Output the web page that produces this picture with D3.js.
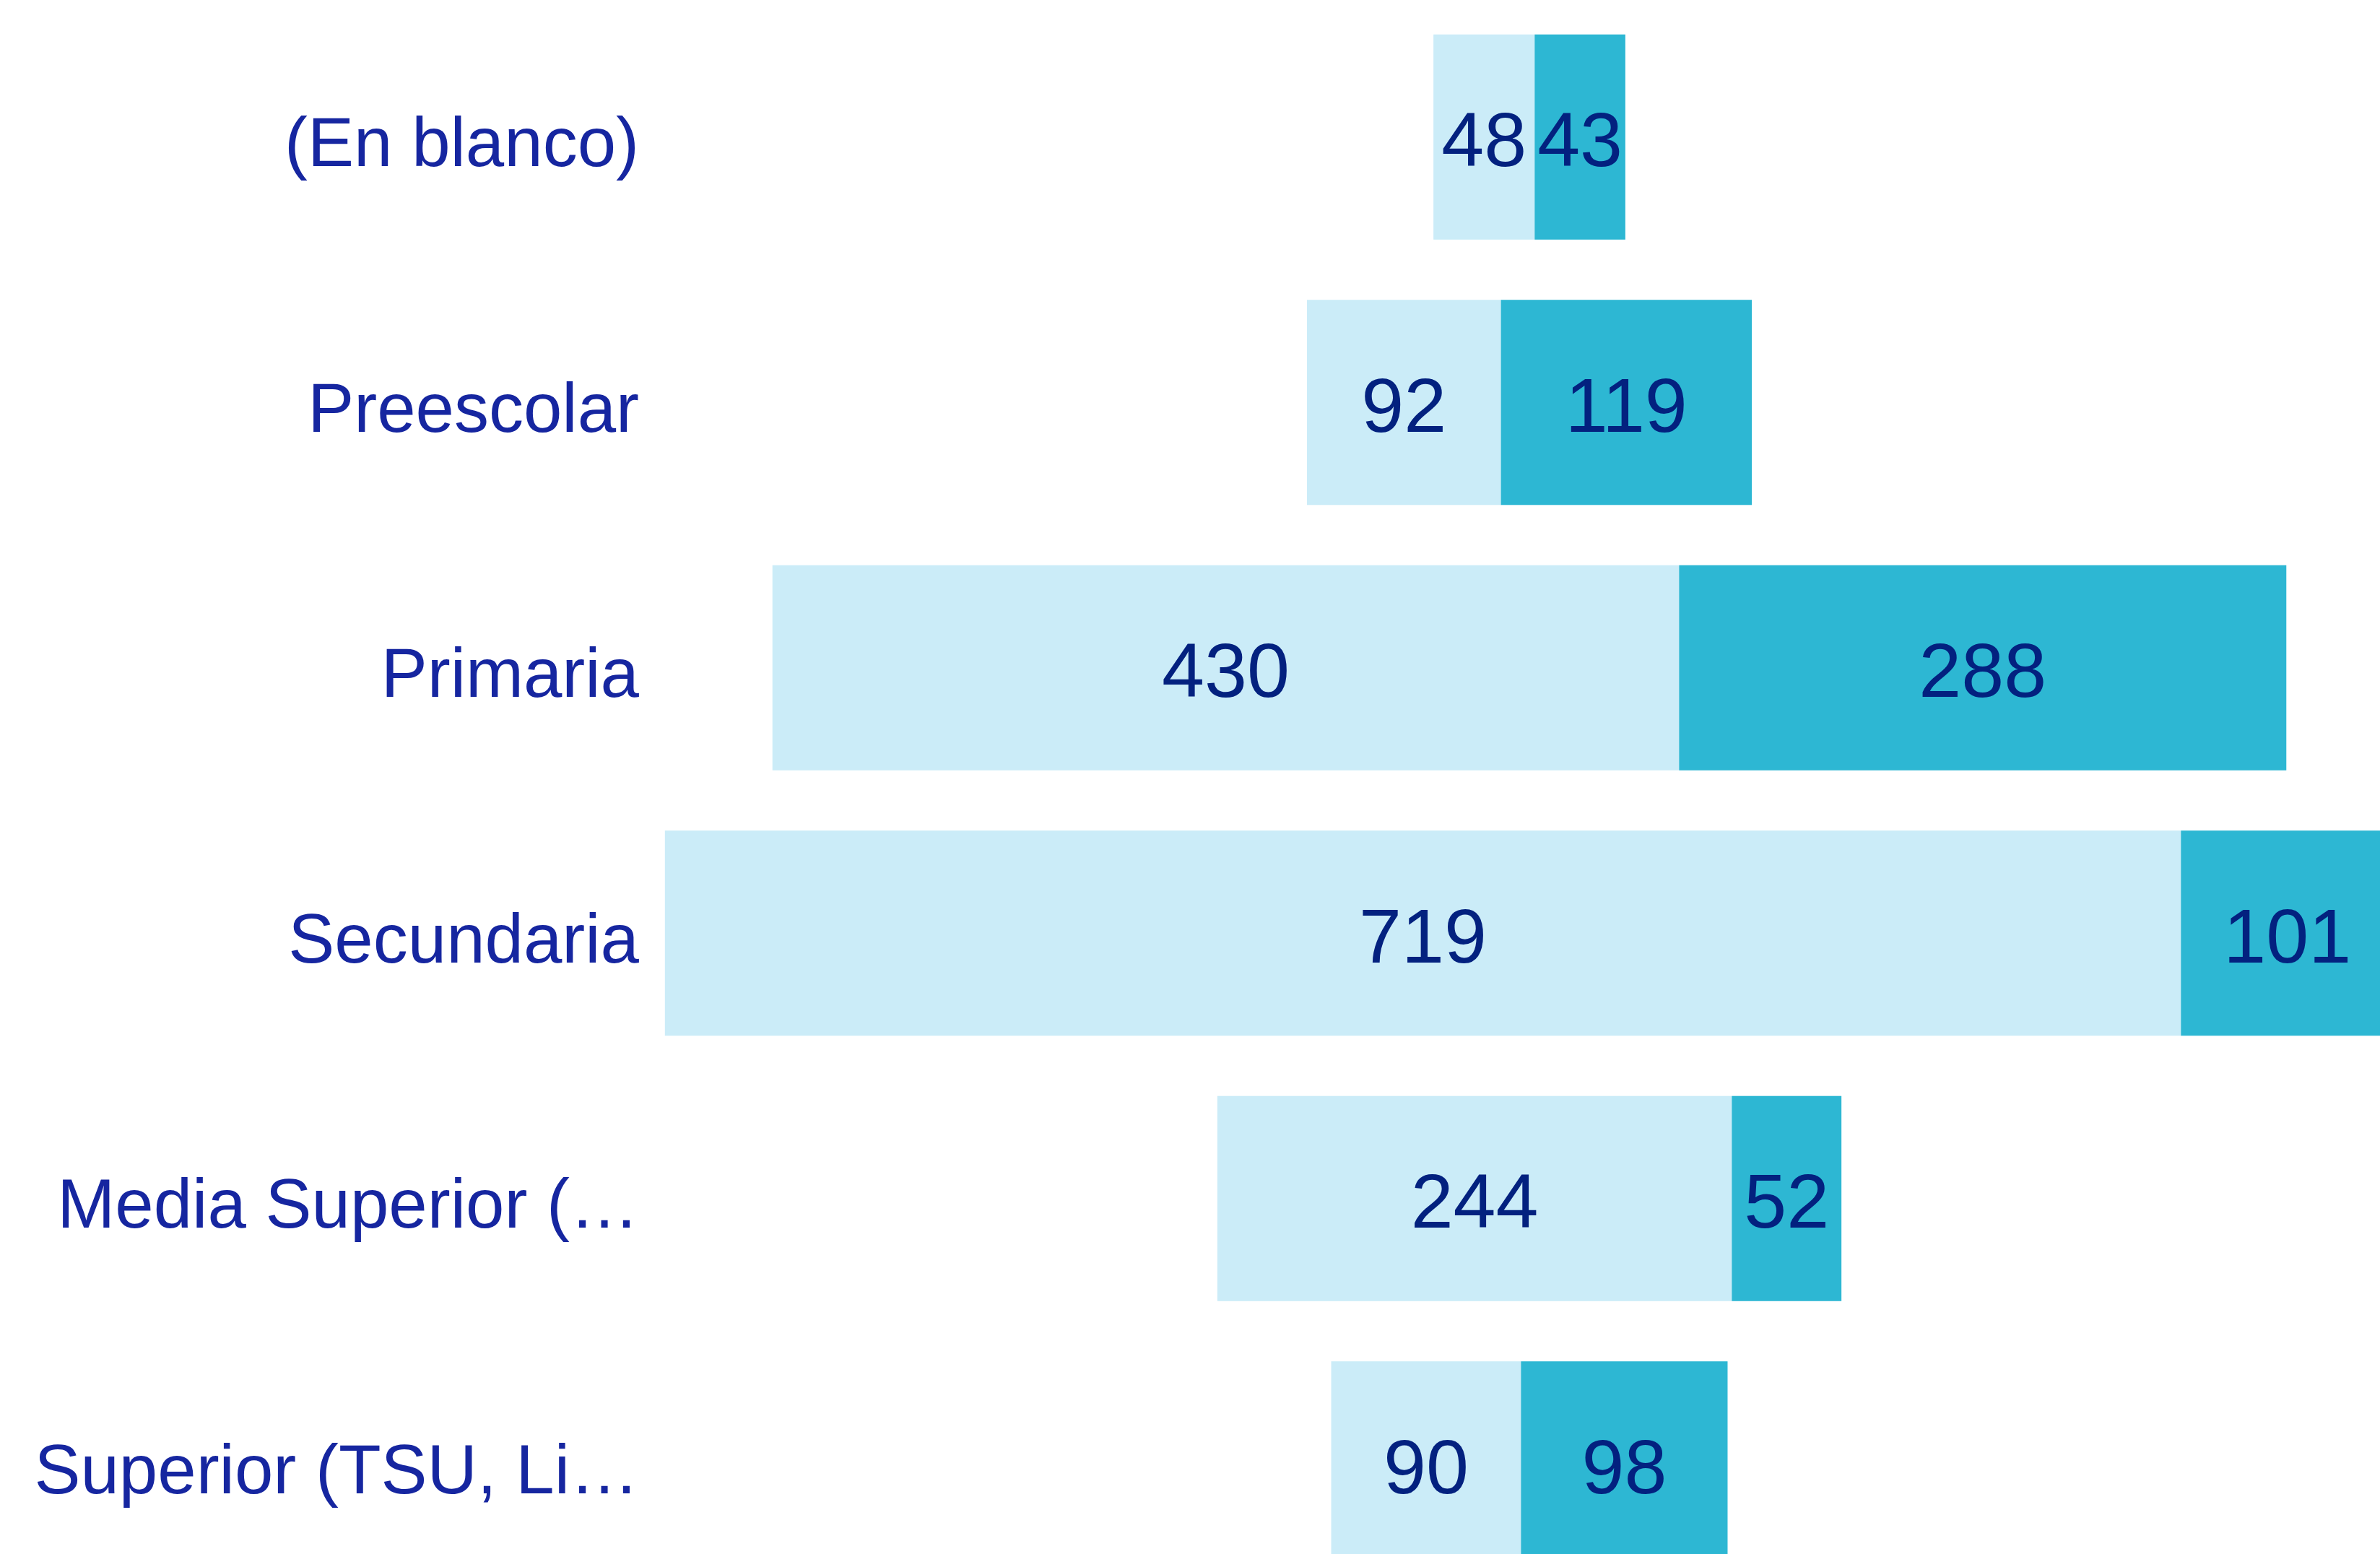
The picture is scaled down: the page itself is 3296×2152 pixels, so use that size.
<!DOCTYPE html>
<html>
<head>
<meta charset="utf-8">
<script src="https://cdn.jsdelivr.net/npm/d3@7"></script>
<style>
  html, body { margin: 0; padding: 0; background: #fff; overflow: hidden; }
  svg { display: block; font-family: "Liberation Sans", Arial, sans-serif; }
</style>
</head>
<body>
<div id="chart"></div>
<script>
var categories = ["(En blanco)", "Preescolar", "Primaria", "Secundaria", "Media Superior (\u2026", "Superior (TSU, Li\u2026"];
var seriesA = [48, 92, 430, 719, 244, 90];
var seriesB = [43, 119, 288, 101, 52, 98];

var funnel = (function (d3) {
  var defaults = {
    width: 3296,
    height: 2152,
    center: 2118,
    unit: 2.92,
    top: 6,
    step: 367.5,
    labelX: 885
  };

  var colors = ["#cbecf8", "#2db7d3"];

  function rows () {
    return categories.map(function (c, i) {
      var total = seriesA[i] + seriesB[i];
      return {
        cat: c,
        segs: [
          { v: seriesA[i], x0: -total / 2, x1: -total / 2 + seriesA[i], k: 0 },
          { v: seriesB[i], x0: -total / 2 + seriesA[i], x1: total / 2, k: 1 }
        ]
      };
    });
  }

  function draw (selector) {
    var w = defaults.width, h = defaults.height;
    var chart = d3.select(selector).append("svg")
      .attr("width", w)
      .attr("height", h);

    var half = w / 2 / defaults.unit;
    var x = d3.scaleLinear()
      .domain([-half, half])
      .range([defaults.center - w / 2, defaults.center + w / 2]);

    var y = d3.scaleBand()
      .domain(categories)
      .range([defaults.top, defaults.top + defaults.step * categories.length])
      .paddingInner(0.227)
      .paddingOuter(0.1135);

    var data = rows();

    var g = chart.selectAll("g.row")
      .data(data)
    .enter().append("g")
      .attr("class", "row")
      .attr("transform", function (d) { return "translate(0," + y(d.cat) + ")"; });

    g.selectAll("rect")
      .data(function (d) { return d.segs; })
    .enter().append("rect")
      .attr("x", function (d) { return x(d.x0); })
      .attr("width", function (d) { return x(d.x1) - x(d.x0); })
      .attr("y", 0)
      .attr("height", y.bandwidth())
      .attr("fill", function (d) { return colors[d.k]; });

    g.selectAll("text.val")
      .data(function (d) { return d.segs; })
    .enter().append("text")
      .attr("class", "val")
      .attr("x", function (d) { return (x(d.x0) + x(d.x1)) / 2; })
      .attr("y", y.bandwidth() / 2)
      .attr("dy", "0.38em")
      .attr("text-anchor", "middle")
      .attr("font-size", 106)
      .attr("fill", "#03217f")
      .text(function (d) { return d.v; });

    g.append("text")
      .attr("class", "cat")
      .attr("x", defaults.labelX)
      .attr("y", y.bandwidth() / 2)
      .attr("dy", "0.42em")
      .attr("text-anchor", "end")
      .attr("font-size", 96)
      .attr("fill", "#1626a0")
      .text(function (d) { return d.cat; });

    return chart;
  }

  return { draw: draw };
})(d3);

funnel.draw("#chart");
</script>
</body>
</html>
